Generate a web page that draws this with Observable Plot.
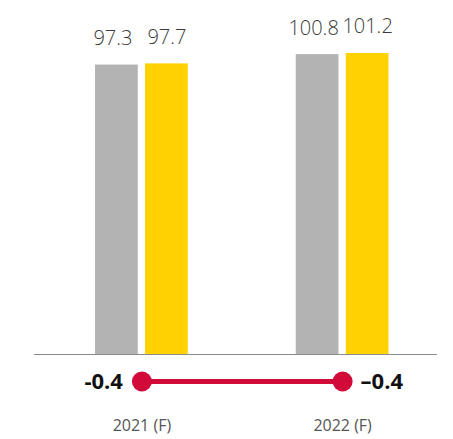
<!DOCTYPE html>
<html>
<head>
<meta charset="utf-8">
<script src="https://cdn.jsdelivr.net/npm/d3@7"></script>
<script src="https://cdn.jsdelivr.net/npm/@observablehq/plot@0.6"></script>
<style>
  html, body { margin: 0; padding: 0; background: #fff; }
  #chart { width: 453px; height: 439px; }
  #chart svg { display: block; }
</style>
</head>
<body>
<div id="chart"></div>
<script>
// Data
const years = ["2021 (F)", "2022 (F)"];
const actual = [97.3, 100.8];
const forecast = [97.7, 101.2];
const diff = [-0.4, -0.4];
const diffLabels = ["-0.4", "–0.4"];

const bars = years.map((y, i) => ({year: y, actual: actual[i], forecast: forecast[i]}));
const diffs = years.map((y, i) => ({year: y, value: diff[i], label: diffLabels[i]}));

const GRAY = "#b3b3b3", YELLOW = "#ffd200", RED = "#d10a3a";
const xScale = {type: "band", domain: years, paddingInner: 0.538, paddingOuter: 0.273, align: 0.557, round: false, axis: null};

const barChart = Plot.plot({
  width: 453, height: 365,
  marginLeft: 34, marginRight: 16, marginTop: 0, marginBottom: 11,
  style: {fontFamily: "'Open Sans', sans-serif", background: "white"},
  x: xScale,
  y: {domain: [0, 119], axis: null},
  marks: [
    Plot.barY(bars, {x: "year", y: "actual", fill: GRAY, insetRight: 50}),
    Plot.barY(bars, {x: "year", y: "forecast", fill: YELLOW, insetLeft: 50}),
    Plot.ruleY([0], {stroke: "#8a8a8a", strokeWidth: 1}),
    Plot.text(bars, {x: "year", y: "actual", text: d => String(d.actual), dx: -29, dy: -20, lineAnchor: "bottom", fontSize: 20, fontWeight: 300, fill: "#3a3a3a"}),
    Plot.text(bars, {x: "year", y: "forecast", text: d => String(d.forecast), dx: 25, dy: -20, lineAnchor: "bottom", fontSize: 20, fontWeight: 300, fill: "#3a3a3a"})
  ]
});

const diffChart = Plot.plot({
  width: 453, height: 74,
  marginLeft: 34, marginRight: 16, marginTop: 0, marginBottom: 42,
  style: {fontFamily: "'Open Sans', sans-serif", background: "white"},
  x: xScale,
  y: {domain: [-0.8, 0], axis: null},
  marks: [
    Plot.line(diffs, {x: "year", y: "value", stroke: RED, strokeWidth: 5}),
    Plot.dot(diffs, {x: "year", y: "value", r: 10, fill: RED, stroke: "none"}),
    Plot.text(diffs.slice(0, 1), {x: "year", y: "value", text: "label", textAnchor: "end", dx: -19, fontSize: 22, fontWeight: "bold", fill: "#111"}),
    Plot.text(diffs.slice(1), {x: "year", y: "value", text: "label", textAnchor: "start", dx: 18, fontSize: 22, fontWeight: "bold", fill: "#111"}),
    Plot.text(years, {x: d => d, frameAnchor: "bottom", dy: 33, fontSize: 16, fill: "#555"})
  ]
});

const el = document.getElementById("chart");
el.appendChild(barChart);
el.appendChild(diffChart);
</script>
</body>
</html>
